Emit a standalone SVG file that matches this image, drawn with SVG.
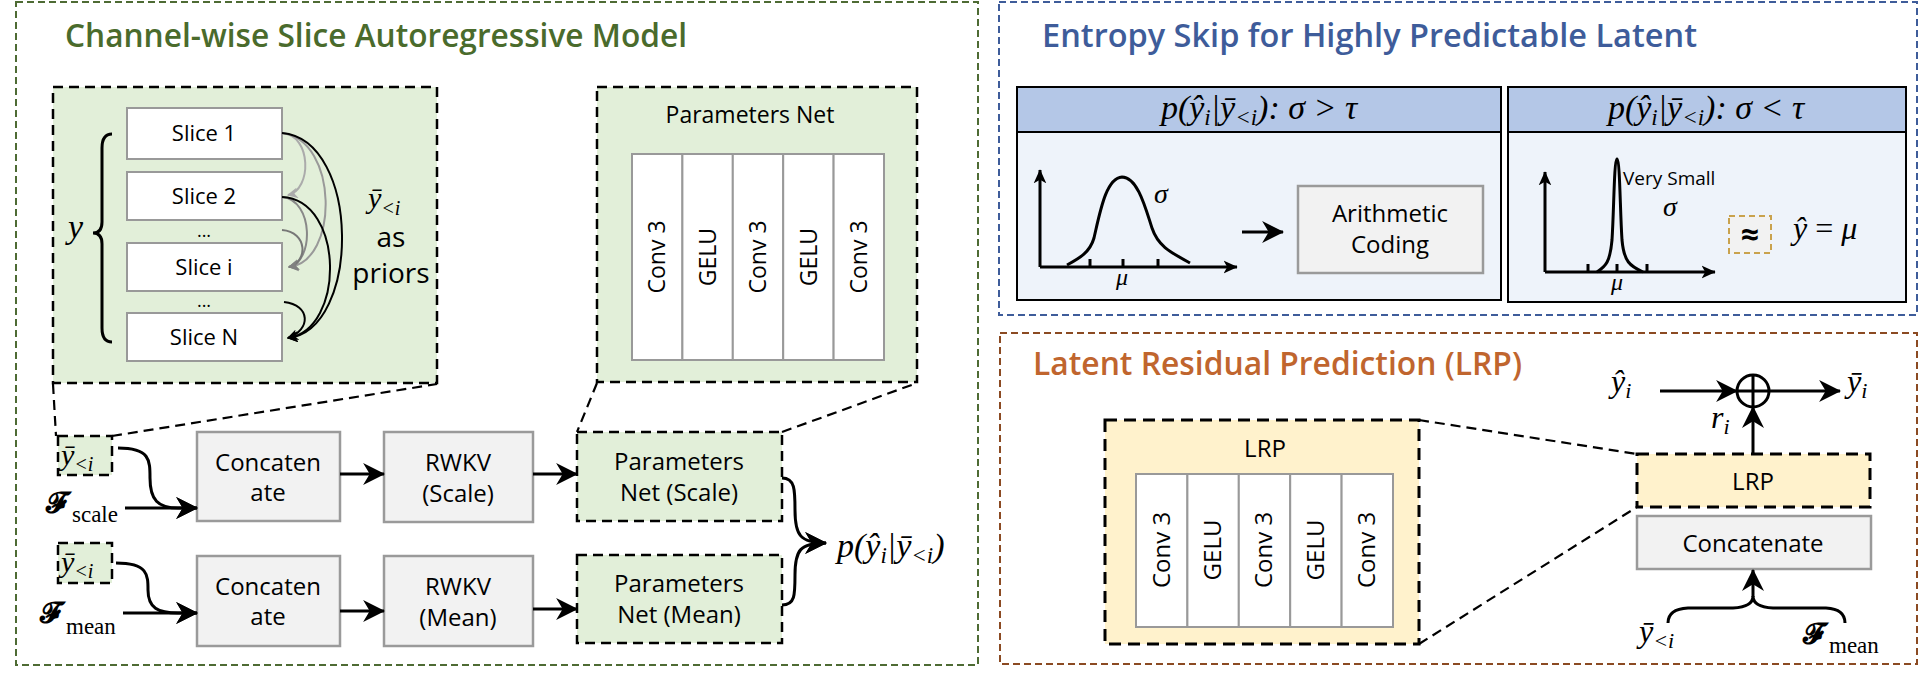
<svg xmlns="http://www.w3.org/2000/svg" width="1920" height="679" viewBox="0 0 1920 679">
<defs>
<style>
.t{font-family:"Open Sans","Noto Sans","DejaVu Sans",sans-serif;fill:#000;}
.m{font-family:"Liberation Serif","DejaVu Serif",serif;font-style:italic;fill:#000;}
.scr{font-family:"DejaVu Serif","DejaVu Sans","Noto Sans",serif;font-weight:bold;fill:#000;}
.up{font-family:"Liberation Serif","DejaVu Serif",serif;font-style:normal;}
.ttl{font-family:"Open Sans","Noto Sans",sans-serif;font-weight:600;font-size:32px;}
.gbox{fill:#e2efd9;stroke:#000;stroke-width:2.5;stroke-dasharray:10 6;}
.ybox{fill:#fff2cc;stroke:#000;stroke-width:3;stroke-dasharray:12 7;}
.wbox{fill:#fff;stroke:#999;stroke-width:2;}
.cbox{fill:#f2f2f2;stroke:#9a9a9a;stroke-width:2.5;}
.ln{fill:none;stroke:#000;stroke-width:3;}
.dl{fill:none;stroke:#000;stroke-width:2.2;stroke-dasharray:10 6;}
.arc{fill:none;stroke-width:2;}
</style>
<marker id="ah" viewBox="0 0 20 20" refX="19" refY="10" markerWidth="22" markerHeight="22" markerUnits="userSpaceOnUse" orient="auto"><path d="M0,0 L20,10 L0,20 L6,10 z" fill="#000"/></marker>
<marker id="ahm" viewBox="0 0 20 20" refX="19" refY="10" markerWidth="14" markerHeight="14" markerUnits="userSpaceOnUse" orient="auto"><path d="M0,1 L20,10 L0,19 L5,10 z" fill="#000"/></marker>
<marker id="ab" viewBox="0 0 10 10" refX="9" refY="5" markerWidth="11" markerHeight="11" markerUnits="userSpaceOnUse" orient="auto"><path d="M0,0 L10,5 L0,10 L3,5 z" fill="#000"/></marker>
<marker id="ag" viewBox="0 0 10 10" refX="9" refY="5" markerWidth="11" markerHeight="11" markerUnits="userSpaceOnUse" orient="auto"><path d="M0,0 L10,5 L0,10 L3,5 z" fill="#808080"/></marker>
<marker id="alg" viewBox="0 0 10 10" refX="9" refY="5" markerWidth="11" markerHeight="11" markerUnits="userSpaceOnUse" orient="auto"><path d="M0,0 L10,5 L0,10 L3,5 z" fill="#ababab"/></marker>
</defs>

<!-- Section frames -->
<g id="section-slice-ar">
<rect x="16" y="2" width="962" height="663" fill="none" stroke="#4e6b34" stroke-width="2" stroke-dasharray="7 4"/>
<text class="ttl" x="65" y="47" fill="#4a6b2c" textLength="622" lengthAdjust="spacingAndGlyphs">Channel-wise Slice Autoregressive Model</text>
</g>
<g id="section-entropy-skip">
<rect x="999" y="2" width="918" height="313" fill="none" stroke="#3e5c9a" stroke-width="2" stroke-dasharray="7 4"/>
<text class="ttl" x="1042" y="47" fill="#3e5c9a" textLength="655" lengthAdjust="spacingAndGlyphs">Entropy Skip for Highly Predictable Latent</text>
</g>
<g id="section-lrp">
<rect x="1000" y="333" width="917" height="331" fill="none" stroke="#8b4a22" stroke-width="2" stroke-dasharray="7 4"/>
<text class="ttl" x="1033" y="375" fill="#c0652e" textLength="489" lengthAdjust="spacingAndGlyphs">Latent Residual Prediction (LRP)</text>
</g>

<!-- Slice panel -->
<g id="slice-panel">
<rect class="gbox" x="53" y="87" width="384" height="296"/>
<text class="m" x="68" y="238" font-size="34">y</text>
<path class="ln" stroke-width="2.5" d="M112,134 Q102,134 102,148 L102,222 Q102,233 93,233 Q102,233 102,244 L102,328 Q102,342 112,342"/>
<text class="m" x="368" y="208" font-size="30">ȳ<tspan font-size="20" dy="7">&lt;i</tspan></text>
<text class="t" x="391" y="247" font-size="28" text-anchor="middle">as</text>
<text class="t" x="391" y="283" font-size="28" text-anchor="middle">priors</text>
</g>
<g id="slice-1"><rect class="wbox" x="127" y="108" width="155" height="51"/><text class="t" x="204" y="141" font-size="22" text-anchor="middle">Slice 1</text></g>
<g id="slice-2"><rect class="wbox" x="127" y="172" width="155" height="48"/><text class="t" x="204" y="204" font-size="22" text-anchor="middle">Slice 2</text></g>
<text class="t" x="204" y="237" font-size="18" text-anchor="middle">...</text>
<g id="slice-i"><rect class="wbox" x="127" y="243" width="155" height="48"/><text class="t" x="204" y="275" font-size="22" text-anchor="middle">Slice i</text></g>
<text class="t" x="204" y="307" font-size="18" text-anchor="middle">...</text>
<g id="slice-n"><rect class="wbox" x="127" y="313" width="155" height="48"/><text class="t" x="204" y="345" font-size="22" text-anchor="middle">Slice N</text></g>

<!-- Parameters net panel -->
<g id="params-net-panel">
<rect class="gbox" x="597" y="87" width="320" height="295"/>
<text class="t" x="750" y="123" font-size="23" text-anchor="middle">Parameters Net</text>
<rect class="wbox" x="632" y="154" width="50.4" height="206"/>
<rect class="wbox" x="682.4" y="154" width="50.4" height="206"/>
<rect class="wbox" x="732.8" y="154" width="50.4" height="206"/>
<rect class="wbox" x="783.2" y="154" width="50.4" height="206"/>
<rect class="wbox" x="833.6" y="154" width="50.4" height="206"/>
<g font-size="23" class="t" text-anchor="middle">
<text class="t" transform="translate(665,257) rotate(-90)">Conv 3</text>
<text class="t" transform="translate(716,257) rotate(-90)">GELU</text>
<text class="t" transform="translate(766,257) rotate(-90)">Conv 3</text>
<text class="t" transform="translate(817,257) rotate(-90)">GELU</text>
<text class="t" transform="translate(867,257) rotate(-90)">Conv 3</text>
</g>
</g>

<!-- Bottom pipeline -->
<g id="ybar-scale"><rect class="gbox" x="58" y="436" width="54" height="39" stroke-width="2" stroke-dasharray="7 4"/><text class="m" x="61" y="465" font-size="30">ȳ<tspan font-size="20" dy="6">&lt;i</tspan></text></g>
<g id="f-scale"><text class="scr" x="46" y="512" font-size="28">𝓕</text><text class="m up" x="72" y="522" font-size="23">scale</text></g>
<g id="concat-scale"><rect class="cbox" x="197" y="432" width="143" height="89"/><text class="t" x="268" y="471" font-size="24" text-anchor="middle">Concaten</text><text class="t" x="268" y="501" font-size="24" text-anchor="middle">ate</text></g>
<g id="rwkv-scale"><rect class="cbox" x="384" y="432" width="149" height="90"/><text class="t" x="458" y="471" font-size="24" text-anchor="middle">RWKV</text><text class="t" x="458" y="502" font-size="24" text-anchor="middle">(Scale)</text></g>
<g id="pnet-scale"><rect class="gbox" x="577" y="432" width="205" height="89"/><text class="t" x="679" y="470" font-size="24" text-anchor="middle">Parameters</text><text class="t" x="679" y="501" font-size="24" text-anchor="middle">Net (Scale)</text></g>

<g id="ybar-mean"><rect class="gbox" x="58" y="543" width="54" height="40" stroke-width="2" stroke-dasharray="7 4"/><text class="m" x="61" y="572" font-size="30">ȳ<tspan font-size="20" dy="6">&lt;i</tspan></text></g>
<g id="f-mean"><text class="scr" x="40" y="622" font-size="28">𝓕</text><text class="m up" x="66" y="634" font-size="23">mean</text></g>
<g id="concat-mean"><rect class="cbox" x="197" y="556" width="143" height="90"/><text class="t" x="268" y="595" font-size="24" text-anchor="middle">Concaten</text><text class="t" x="268" y="625" font-size="24" text-anchor="middle">ate</text></g>
<g id="rwkv-mean"><rect class="cbox" x="384" y="556" width="149" height="90"/><text class="t" x="458" y="595" font-size="24" text-anchor="middle">RWKV</text><text class="t" x="458" y="626" font-size="24" text-anchor="middle">(Mean)</text></g>
<g id="pnet-mean"><rect class="gbox" x="577" y="555" width="205" height="88"/><text class="t" x="679" y="592" font-size="24" text-anchor="middle">Parameters</text><text class="t" x="679" y="623" font-size="24" text-anchor="middle">Net (Mean)</text></g>

<g id="prob-out"><text class="m" x="837" y="557" font-size="34">p(ŷ<tspan font-size="23" dy="6">i</tspan><tspan dy="-6">|ȳ</tspan><tspan font-size="23" dy="6">&lt;i</tspan><tspan dy="-6">)</tspan></text></g>

<!-- Entropy skip panels -->
<g id="entropy-high">
<rect x="1017" y="87" width="484" height="213" fill="#eef3fa" stroke="#000" stroke-width="2"/>
<rect x="1017" y="87" width="484" height="45" fill="#b4c7e7" stroke="#000" stroke-width="2"/>
<text class="m" x="1259" y="119" font-size="34" text-anchor="middle">p(ŷ<tspan font-size="23" dy="6">i</tspan><tspan dy="-6">|ȳ</tspan><tspan font-size="23" dy="6">&lt;i</tspan><tspan dy="-6">): σ &gt; τ</tspan></text>
<path class="ln" stroke-width="2.5" d="M1040,267 L1040,170" marker-end="url(#ahm)"/>
<path class="ln" stroke-width="2.5" d="M1040,267 L1237,267" marker-end="url(#ahm)"/>
<path class="ln" stroke-width="2.5" d="M1067,265 C1080,258 1090,252 1094,238 C1100,212 1106,178 1122,177 C1138,177 1146,210 1152,228 C1158,246 1170,252 1190,263"/>
<path class="ln" stroke-width="2" d="M1090,267 V259 M1123,267 V259 M1158,267 V259"/>
<text class="m" x="1122" y="285" font-size="24" text-anchor="middle">μ</text>
<text class="m" x="1161" y="203" font-size="28" text-anchor="middle">σ</text>
<path class="ln" d="M1242,232 L1283,232" marker-end="url(#ah)"/>
<rect class="cbox" x="1298" y="186" width="185" height="87" stroke-width="3"/>
<text class="t" x="1390" y="222" font-size="24" text-anchor="middle">Arithmetic</text>
<text class="t" x="1390" y="253" font-size="24" text-anchor="middle">Coding</text>
</g>
<g id="entropy-low">
<rect x="1508" y="87" width="398" height="215" fill="#eef3fa" stroke="#000" stroke-width="2"/>
<rect x="1508" y="87" width="398" height="45" fill="#b4c7e7" stroke="#000" stroke-width="2"/>
<text class="m" x="1706" y="119" font-size="34" text-anchor="middle">p(ŷ<tspan font-size="23" dy="6">i</tspan><tspan dy="-6">|ȳ</tspan><tspan font-size="23" dy="6">&lt;i</tspan><tspan dy="-6">): σ &lt; τ</tspan></text>
<path class="ln" stroke-width="2.5" d="M1545,272 L1545,172" marker-end="url(#ahm)"/>
<path class="ln" stroke-width="2.5" d="M1545,272 L1715,272" marker-end="url(#ahm)"/>
<path class="ln" stroke-width="2.5" d="M1597,272 C1606,266 1610,262 1612,240 C1614,210 1614,160 1617,159 C1620,160 1620,210 1622,240 C1624,262 1630,266 1643,272"/>
<path class="ln" stroke-width="2" d="M1588,272 V264 M1617,272 V264 M1647,272 V264"/>
<text class="m" x="1617" y="290" font-size="24" text-anchor="middle">μ</text>
<text class="t" x="1623" y="185" font-size="19">Very Small</text>
<text class="m" x="1670" y="216" font-size="28" text-anchor="middle">σ</text>
<rect x="1729" y="216" width="42" height="37" fill="#f2f2f2" stroke="#c9a24d" stroke-width="2" stroke-dasharray="6 4"/>
<text class="t" x="1750" y="246" font-size="32" font-weight="bold" text-anchor="middle">≈</text>
<text class="m" x="1793" y="239" font-size="32">ŷ <tspan class="up">=</tspan> μ</text>
</g>

<!-- LRP -->
<g id="lrp-detail">
<rect class="ybox" x="1105" y="420" width="314" height="224"/>
<text class="t" x="1265" y="457" font-size="24" text-anchor="middle">LRP</text>
<rect class="wbox" x="1136" y="474" width="51.4" height="153" stroke-width="2.5"/>
<rect class="wbox" x="1187.4" y="474" width="51.4" height="153" stroke-width="2.5"/>
<rect class="wbox" x="1238.8" y="474" width="51.4" height="153" stroke-width="2.5"/>
<rect class="wbox" x="1290.2" y="474" width="51.4" height="153" stroke-width="2.5"/>
<rect class="wbox" x="1341.6" y="474" width="51.4" height="153" stroke-width="2.5"/>
<g font-size="24" class="t" text-anchor="middle">
<text class="t" transform="translate(1170,550) rotate(-90)">Conv 3</text>
<text class="t" transform="translate(1221,550) rotate(-90)">GELU</text>
<text class="t" transform="translate(1272,550) rotate(-90)">Conv 3</text>
<text class="t" transform="translate(1324,550) rotate(-90)">GELU</text>
<text class="t" transform="translate(1375,550) rotate(-90)">Conv 3</text>
</g>
</g>
<g id="lrp-block"><rect class="ybox" x="1637" y="454" width="233" height="53" stroke-width="2.5" stroke-dasharray="9 6"/><text class="t" x="1753" y="490" font-size="24" text-anchor="middle">LRP</text></g>
<g id="lrp-concat"><rect class="cbox" x="1637" y="516" width="234" height="53"/><text class="t" x="1753" y="552" font-size="24" text-anchor="middle">Concatenate</text></g>
<g id="lrp-sum"><circle cx="1753" cy="391" r="16" fill="none" stroke="#000" stroke-width="3"/><path class="ln" d="M1737,391 H1769 M1753,375 V407"/></g>
<g id="lrp-labels">
<text class="m" x="1611" y="392" font-size="32">ŷ<tspan font-size="22" dy="6">i</tspan></text>
<text class="m" x="1847" y="392" font-size="32">ȳ<tspan font-size="22" dy="6">i</tspan></text>
<text class="m" x="1711" y="428" font-size="32">r<tspan font-size="22" dy="6">i</tspan></text>
<text class="m" x="1639" y="642" font-size="32">ȳ<tspan font-size="22" dy="6">&lt;i</tspan></text>
<text class="scr" x="1803" y="643" font-size="28">𝓕</text><text class="m up" x="1829" y="653" font-size="23">mean</text>
</g>

<!-- Connectors -->
<g id="connectors">
<path class="arc" stroke="#ababab" d="M282,133 C312,135 312,190 288,195" marker-end="url(#alg)"/>
<path class="arc" stroke="#999" d="M282,133 C339,140 339,262 289,267" marker-end="url(#ag)"/>
<path class="arc" stroke="#888" d="M282,197 C314,200 314,262 289,267" marker-end="url(#ag)"/>
<path class="arc" stroke="#777" d="M282,230 C308,232 308,262 289,267" marker-end="url(#ag)"/>
<path class="arc" stroke="#000" d="M282,133 C361,140 361,330 288,338" marker-end="url(#ab)"/>
<path class="arc" stroke="#000" d="M282,197 C345,200 345,330 288,338" marker-end="url(#ab)"/>
<path class="arc" stroke="#000" d="M284,302 C311,305 311,330 288,338" marker-end="url(#ab)"/>

<path class="dl" d="M53,384 L56,436 M112,436 L437,384"/>
<path class="dl" d="M597,383 L577,432 M782,432 L917,383"/>
<path class="dl" d="M1419,420 L1637,454 M1419,644 L1637,507"/>

<path class="ln" d="M118,448 C150,448 150,460 150,478 C150,500 158,508 178,508 L197,508" marker-end="url(#ah)"/>
<path class="ln" d="M125,508 L197,508" marker-end="url(#ah)"/>
<path class="ln" d="M340,474 L384,474" marker-end="url(#ah)"/>
<path class="ln" d="M533,474 L577,474" marker-end="url(#ah)"/>

<path class="ln" d="M116,563 C148,563 148,575 148,590 C148,608 158,613 178,613 L197,613" marker-end="url(#ah)"/>
<path class="ln" d="M123,613 L197,613" marker-end="url(#ah)"/>
<path class="ln" d="M340,611 L384,611" marker-end="url(#ah)"/>
<path class="ln" d="M533,609 L577,609" marker-end="url(#ah)"/>

<path class="ln" d="M782,478 C795,478 795,490 795,510 C795,535 800,543 826,543" marker-end="url(#ah)"/>
<path class="ln" d="M782,605 C795,605 795,595 795,575 C795,550 800,543 826,543" marker-end="url(#ah)"/>

<path class="ln" d="M1660,391 L1737,391" marker-end="url(#ah)"/>
<path class="ln" d="M1769,391 L1840,391" marker-end="url(#ah)"/>
<path class="ln" d="M1753,454 L1753,407" marker-end="url(#ah)"/>
<path class="ln" d="M1753,597 L1753,570" marker-end="url(#ah)"/>
<path class="ln" stroke-width="2.5" d="M1668,623 Q1668,609 1688,608 L1733,608 Q1753,607 1753,596 Q1753,607 1773,608 L1826,608 Q1845,609 1845,623"/>
</g>
</svg>
